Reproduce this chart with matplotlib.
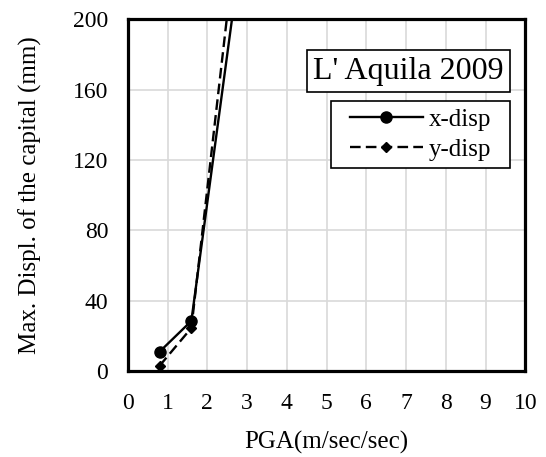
import matplotlib
matplotlib.use("Agg")
import matplotlib.pyplot as plt
from matplotlib.patches import Rectangle

plt.rcParams['font.family'] = ['Liberation Serif', 'DejaVu Serif']

# PGA levels and peak capital displacements (last step runs off the top)
pga = [0.8, 1.6, 3.2]
x_disp = [11, 28.5, 297]
y_disp = [3, 24.5, 340]

x_ticks = list(range(0, 11))
y_ticks = [0, 40, 80, 120, 160, 200]

fig = plt.figure(figsize=(5.46, 4.57), dpi=100)
ax = fig.add_axes([0.234, 0.188, 0.728, 0.770])

ax.plot(pga, x_disp, color='black', lw=1.7, marker='o', ms=8, label='x-disp')
ax.plot(pga, y_disp, color='black', lw=1.7, ls=(0, (4.5, 2.2)), marker='D', ms=5.5, label='y-disp')

ax.set_xlim(0, 10)
ax.set_ylim(0, 200)
ax.set_xticks(x_ticks)
ax.set_yticks(y_ticks)
ax.tick_params(axis='x', length=0, labelsize=17, pad=16)
ax.tick_params(axis='y', length=0, labelsize=17, pad=14)
ax.grid(True, color='#d9d9d9', lw=1.2)
ax.set_axisbelow(True)
for s in ax.spines.values():
    s.set_linewidth(2.3)
    s.set_color('black')

ax.set_xlabel('PGA(m/sec/sec)', fontsize=18, labelpad=12)
ax.set_ylabel('Max. Displ. of the capital (mm)', fontsize=18, labelpad=22)

ax.text(0.7066, 0.852, "L' Aquila 2009", transform=ax.transAxes, fontsize=23,
        ha='center', va='center',
        bbox=dict(boxstyle='square,pad=0.2', fc='white', ec='black', lw=1.2))

# legend frame drawn separately so the padding can be wider than tall
ax.add_patch(Rectangle((0.511, 0.577), 0.451, 0.19, transform=ax.transAxes,
                       fc='white', ec='black', lw=1.2, zorder=4.5))
leg = ax.legend(loc='center', bbox_to_anchor=(0.737, 0.672), fontsize=18,
                frameon=False, borderaxespad=0, handlelength=2.9,
                handletextpad=0.25, borderpad=0.2, labelspacing=0.3)

fig.savefig('out.png', dpi=100)
